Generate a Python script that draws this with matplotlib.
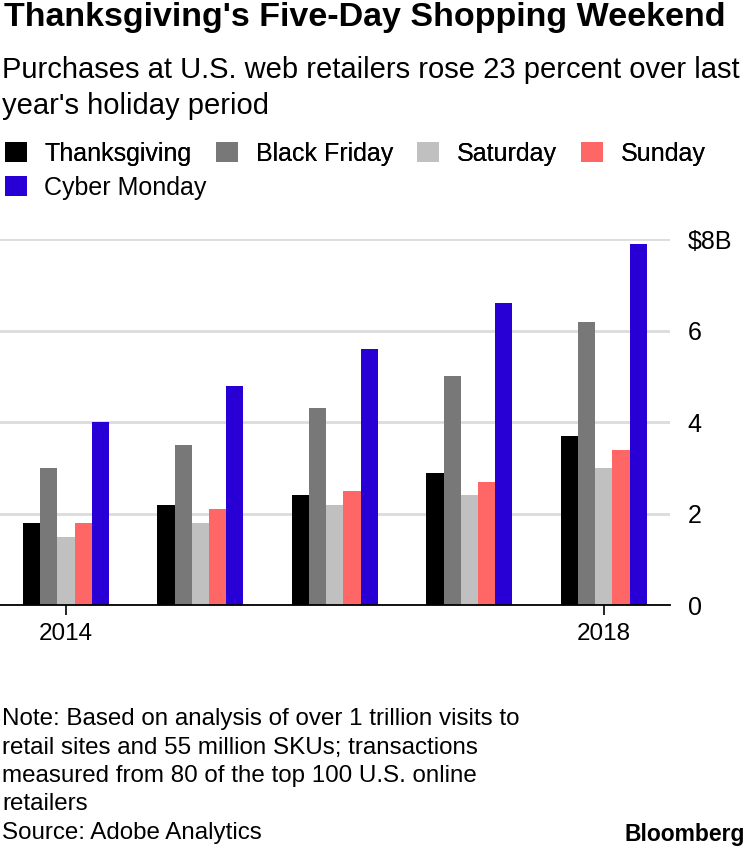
import numpy as np
import matplotlib
matplotlib.use("Agg")
import matplotlib.pyplot as plt

plt.rcParams['font.family'] = ['Liberation Sans', 'DejaVu Sans']

# data (billions of dollars)
years = [2014, 2015, 2016, 2017, 2018]
series_names = ["Thanksgiving", "Black Friday", "Saturday", "Sunday", "Cyber Monday"]
thanksgiving = [1.8, 2.2, 2.4, 2.9, 3.7]
black_friday = [3.0, 3.5, 4.3, 5.0, 6.2]
saturday = [1.5, 1.8, 2.2, 2.4, 3.0]
sunday = [1.8, 2.1, 2.5, 2.7, 3.4]
cyber_monday = [4.0, 4.8, 5.6, 6.6, 7.9]
y_ticks = [0, 2, 4, 6, 8]
y_labels = ["0", "2", "4", "6", "$8B"]
x_ticks = [2014, 2018]

colors = ["#000000", "#787878", "#c0c0c0", "#ff6666", "#2800d6"]

fig = plt.figure(figsize=(7.5, 8.5), dpi=100)
ax = fig.add_axes([0.0, 0.288, 0.893, 0.4306])

values = [thanksgiving, black_friday, saturday, sunday, cyber_monday]
x = np.array(years, dtype=float)
w = 0.128
bars = []
for i, (name, vals, c) in enumerate(zip(series_names, values, colors)):
    b = ax.bar(x + (i - 2) * w, vals, width=w, color=c, label=name, zorder=3)
    bars.append(b)

ax.set_xlim(2013.51, 2018.49)
ax.set_ylim(0, 8)
ax.yaxis.tick_right()
ax.set_yticks(y_ticks)
ax.set_yticklabels(y_labels)
for lab in ax.get_yticklabels():
    lab.set_horizontalalignment('left')
ax.tick_params(axis='y', length=0, pad=13, labelsize=18)
ax.set_xticks(x_ticks)
ax.set_xticklabels([str(t) for t in x_ticks])
ax.tick_params(axis='x', length=7, width=1.2, color='black', labelsize=17.5, pad=6)
ax.grid(axis='y', color='#dcdcdc', linewidth=2, zorder=0)
for s in ['top', 'right', 'left']:
    ax.spines[s].set_visible(False)
ax.spines['bottom'].set_linewidth(1.3)
ax.spines['bottom'].set_zorder(4)

# title / subtitle
fig.text(0.005, 0.979, "Thanksgiving's Five-Day Shopping Weekend", fontsize=24.5,
         fontweight='bold', va='center', ha='left')
fig.text(0.003, 0.934, "Purchases at U.S. web retailers rose 23 percent over last\nyear's holiday period",
         fontsize=21, va='top', ha='left', linespacing=1.35)

# legend in two rows
leg_kw = dict(frameon=False, fontsize=18, handlelength=0.88, handleheight=0.88,
              handletextpad=0.72, columnspacing=0.96, borderaxespad=0, borderpad=0)
leg1 = fig.legend(bars[:4], series_names[:4], ncol=4, loc='center left',
                  bbox_to_anchor=(0.006, 0.819), **leg_kw)
fig.add_artist(leg1)
fig.legend(bars[4:], series_names[4:], ncol=1, loc='center left',
           bbox_to_anchor=(0.006, 0.779), **leg_kw)

# notes
fig.text(0.003, 0.167, "Note: Based on analysis of over 1 trillion visits to\n"
         "retail sites and 55 million SKUs; transactions\n"
         "measured from 80 of the top 100 U.S. online\n"
         "retailers\n"
         "Source: Adobe Analytics",
         fontsize=17.4, va='top', ha='left', linespacing=1.38)
fig.text(0.994, 0.018, "Bloomberg", fontsize=16.5, fontweight='bold', ha='right', va='center')

fig.savefig("out.png", dpi=100)
